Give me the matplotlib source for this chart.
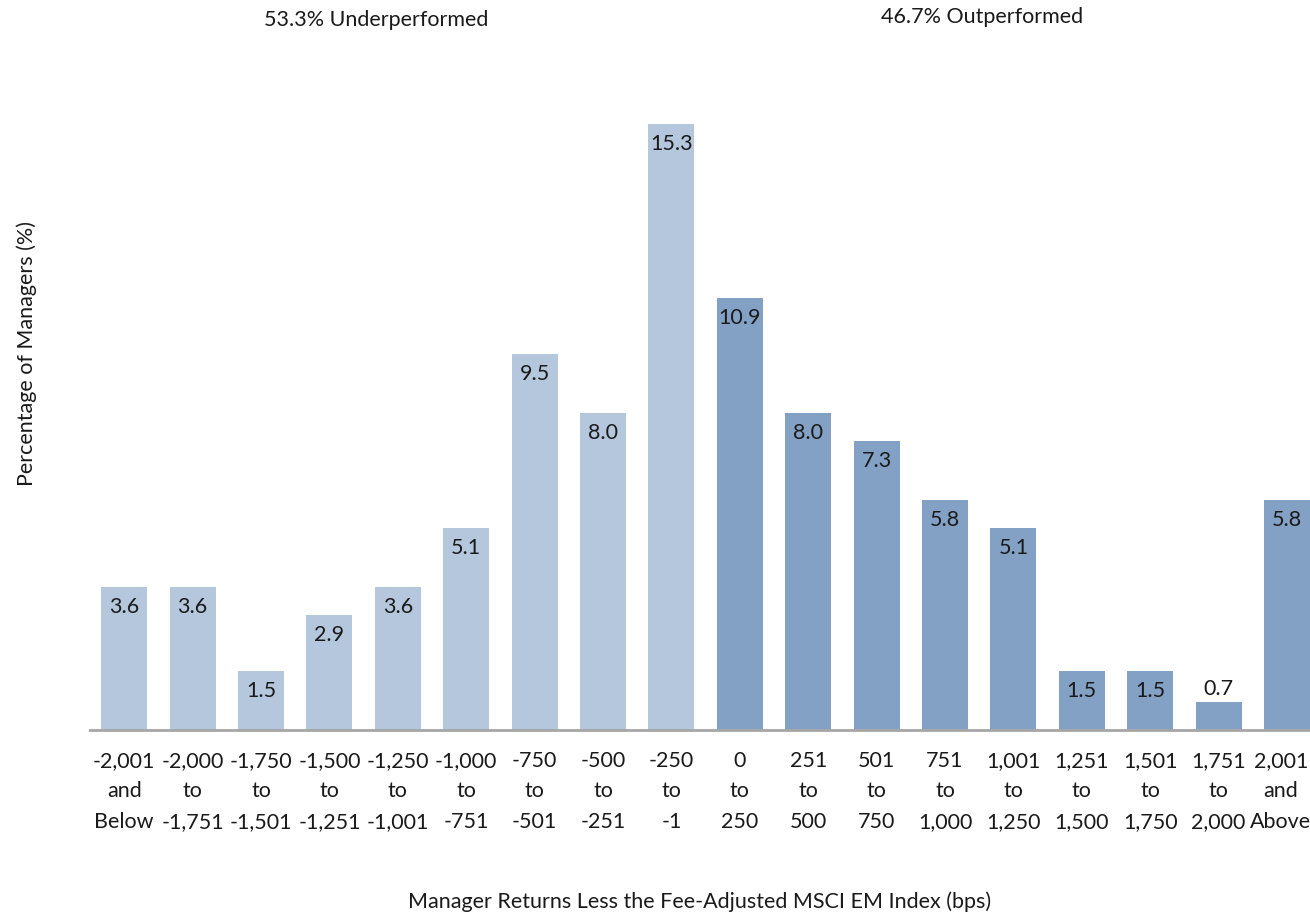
import matplotlib

matplotlib.use("Agg")
import matplotlib.pyplot as plt
from matplotlib.transforms import ScaledTranslation

plt.rcParams["font.family"] = ["Lato", "DejaVu Sans"]

# Buckets of excess return (bps), share of managers in each
bucket_lines = [
    ("-2,001", "and", "Below"),
    ("-2,000", "to", "-1,751"),
    ("-1,750", "to", "-1,501"),
    ("-1,500", "to", "-1,251"),
    ("-1,250", "to", "-1,001"),
    ("-1,000", "to", "-751"),
    ("-750", "to", "-501"),
    ("-500", "to", "-251"),
    ("-250", "to", "-1"),
    ("0", "to", "250"),
    ("251", "to", "500"),
    ("501", "to", "750"),
    ("751", "to", "1,000"),
    ("1,001", "to", "1,250"),
    ("1,251", "to", "1,500"),
    ("1,501", "to", "1,750"),
    ("1,751", "to", "2,000"),
    ("2,001", "and", "Above"),
]
pct_managers = [3.6, 3.6, 1.5, 2.9, 3.6, 5.1, 9.5, 8.0, 15.3,
                10.9, 8.0, 7.3, 5.8, 5.1, 1.5, 1.5, 0.7, 5.8]
n_under = 9  # first nine buckets are below the index

under_label = "53.3% Underperformed"
over_label = "46.7% Outperformed"

LIGHT = "#b4c7dc"
DARK = "#82a1c4"
TEXT = "#1a1a1a"
FS = 15.5

W, H = 1310, 913
fig = plt.figure(figsize=(W / 100, H / 100), dpi=100)
fig.patch.set_facecolor("white")

# axes in pixel terms: baseline at y=730, one bucket = 68.4 px
step = 68.4
left_px, base_px = 90, 730
ymax = 16.0
px_per_unit = 39.6
ax = fig.add_axes([left_px / W, (H - base_px) / H,
                   18 * step / W, ymax * px_per_unit / H])

colors = [LIGHT] * n_under + [DARK] * (len(pct_managers) - n_under)
xs = list(range(len(pct_managers)))
ax.bar(xs, pct_managers, width=0.67, color=colors, zorder=2)

for x, v in zip(xs, pct_managers):
    # small bars get their label above the bar
    dy = -20 if v >= 1.0 else 13
    ax.annotate(f"{v:.1f}", (x, v), xytext=(0, dy), textcoords="offset pixels",
                ha="center", va="center", fontsize=FS, color=TEXT)

ax.set_xlim(-0.5, len(pct_managers) - 0.5)
ax.set_ylim(0, ymax)
ax.set_yticks([])
ax.set_xticks(xs)
ax.set_xticklabels(["\n".join(t) for t in bucket_lines], fontsize=FS,
                   color=TEXT, linespacing=1.65)
ax.tick_params(axis="x", length=0, pad=15)

# pull the last label in so it stays inside the figure
last = ax.get_xticklabels()[-1]
last.set_transform(last.get_transform()
                   + ScaledTranslation(-6 / 100, 0, fig.dpi_scale_trans))

for side in ("top", "right", "left"):
    ax.spines[side].set_visible(False)
ax.spines["bottom"].set_color("#a6a6a6")
ax.spines["bottom"].set_linewidth(2)
ax.spines["bottom"].set_zorder(3)

fig.text(376 / W, 1 - 20 / H, under_label, ha="center", va="center",
         fontsize=FS, color=TEXT)
fig.text(982 / W, 1 - 17 / H, over_label, ha="center", va="center",
         fontsize=FS, color=TEXT)
fig.text(27 / W, 1 - 353 / H, "Percentage of Managers (%)", rotation=90,
         ha="center", va="center", fontsize=FS, color=TEXT)
fig.text(700 / W, 1 - 902 / H,
         "Manager Returns Less the Fee-Adjusted MSCI EM Index (bps)",
         ha="center", va="center", fontsize=FS, color=TEXT)

fig.savefig("out.png", dpi=100, facecolor="white")
